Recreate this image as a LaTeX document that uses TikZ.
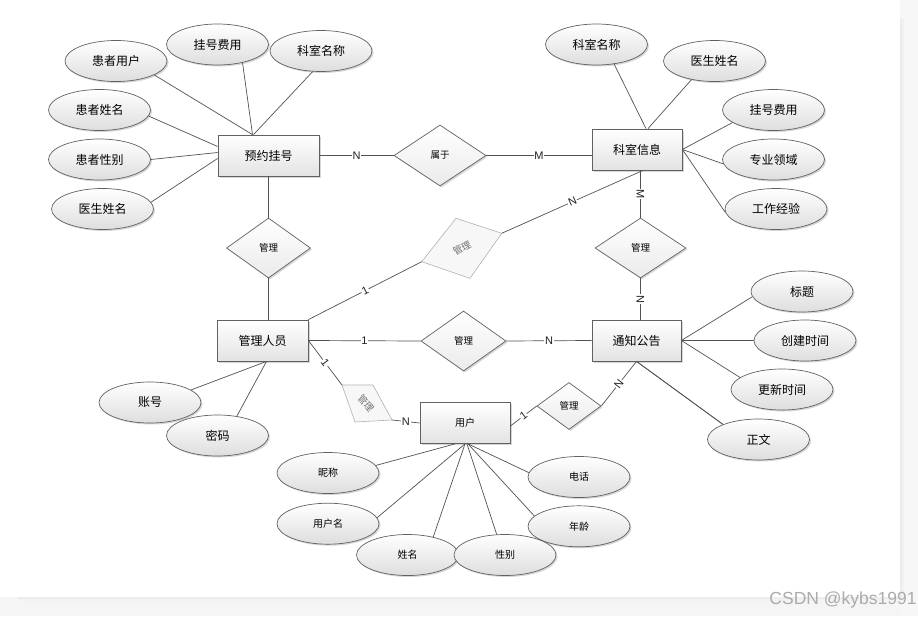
\documentclass[tikz,border=0pt]{standalone}
\usepackage{fontspec}
\newfontfamily\cjk{Noto Sans CJK SC}
\newfontfamily\lat{Liberation Sans}
\usetikzlibrary{shapes.geometric,shadows}
\begin{document}
\begin{tikzpicture}[x=1pt,y=-1pt,
  conn/.style={draw=black!68, line width=0.7pt},
  shd/.style={drop shadow={shadow xshift=1.5pt,shadow yshift=-1.5pt,fill=black!45,opacity=0.35}},
  ent/.style={rectangle, draw=black!62, line width=0.8pt, top color=white, bottom color=black!11,
    minimum height=41, inner sep=0pt, font=\cjk\fontsize{12}{14}\selectfont, shd},
  attr/.style={ellipse, draw=black!62, line width=0.7pt, top color=white, bottom color=black!13,
    minimum width=102, minimum height=41, inner sep=0pt, font=\cjk\fontsize{12}{14}\selectfont, shd},
  sattr/.style={attr, font=\cjk\fontsize{10}{12}\selectfont},
  rel/.style={diamond, draw=black!62, line width=0.7pt, top color=white, bottom color=black!8,
    inner sep=0pt, font=\cjk\fontsize{9.5}{11}\selectfont, shd},
  faded/.style={draw=black!30, line width=0.6pt, fill=black!3},
  fadedtxt/.style={inner sep=0pt, text=black!55, font=\cjk\fontsize{9.5}{11}\selectfont},
  lbl/.style={fill=white, inner sep=0.8pt, text=black!88, font=\lat\fontsize{11}{12}\selectfont},
  wm/.style={inner sep=0pt, text=black!33, font=\lat\fontsize{17.5}{19}\selectfont}
]
\useasboundingbox (0,0) rectangle (918,616);
% background and panel
\fill[white] (0,0) rectangle (918,616);
\fill[black!4] (0,597) rectangle (918,616);
\fill[black!3] (900,0) rectangle (918,616);
\fill[black!5] (19,19) rectangle (904,601);
\fill[black!7] (18,18) rectangle (902,599);
\fill[white] (17,17) rectangle (900,597);

% entities
\node[ent, minimum width=101] (yy) at (268.5,155.5) {预约挂号};
\node[ent, minimum width=90] (ks) at (637,149.5) {科室信息};
\node[ent, minimum width=91] (gl) at (262.5,340.5) {管理人员};
\node[ent, minimum width=89] (tz) at (636.5,340.5) {通知公告};
\node[ent, minimum width=90, font=\cjk\fontsize{10}{12}\selectfont] (yh) at (465,423) {用户};

% relationships
\node[rel, minimum width=92, minimum height=61] (sy) at (440,155.5) {属于};
\node[rel, minimum width=84, minimum height=60] (m1) at (268.5,248) {管理};
\node[rel, minimum width=91, minimum height=60] (m2) at (640.5,248) {管理};
\node[rel, minimum width=85, minimum height=60] (m3) at (463.5,341) {管理};
\node[rel, minimum width=64, minimum height=47] (m4) at (569,406) {管理};

% faded (rotated) relationships
\coordinate (fuL) at (421.7,261.7);
\coordinate (fuT) at (456,218.3);
\coordinate (fuR) at (501.7,233.3);
\coordinate (fuB) at (470,278.3);
\path[faded] (fuL) -- (fuT) -- (fuR) -- (fuB) -- cycle;
\node[fadedtxt, rotate=28] (fu) at (462,248) {管理};
\coordinate (flTL) at (342,385);
\coordinate (flTR) at (373,385);
\coordinate (flBR) at (392,420);
\coordinate (flBL) at (355,422);
\path[faded] (flTL) -- (flTR) -- (flBR) -- (flBL) -- cycle;
\node[fadedtxt, rotate=-50] (fl) at (366,403) {管理};

% attributes of 预约挂号
\node[attr] (a1) at (116,61) {患者用户};
\node[attr] (a2) at (217.5,44.5) {挂号费用};
\node[attr] (a3) at (321,51) {科室名称};
\node[attr] (a4) at (99.5,110) {患者姓名};
\node[attr] (a5) at (99.5,159.5) {患者性别};
\node[attr] (a6) at (102.5,209) {医生姓名};
% attributes of 科室信息
\node[attr] (b1) at (596.5,44.5) {科室名称};
\node[attr] (b2) at (714.5,61) {医生姓名};
\node[attr] (b3) at (773.5,110) {挂号费用};
\node[attr] (b4) at (773.5,159.5) {专业领域};
\node[attr] (b5) at (776,209) {工作经验};
% attributes of 通知公告
\node[attr] (c1) at (802,291.5) {标题};
\node[attr] (c2) at (805,340.5) {创建时间};
\node[attr] (c3) at (782,389.5) {更新时间};
\node[attr] (c4) at (758.5,439.5) {正文};
% attributes of 管理人员
\node[attr] (d1) at (150,402.5) {账号};
\node[attr] (d2) at (217.5,435.5) {密码};
% attributes of 用户
\node[sattr] (e1) at (328,473) {昵称};
\node[sattr] (e2) at (328,523.7) {用户名};
\node[sattr] (e3) at (407.5,555) {姓名};
\node[sattr] (e4) at (505,555) {性别};
\node[sattr] (e5) at (579,477) {电话};
\node[sattr] (e6) at (579,526.3) {年龄};

% attribute connectors
\draw[conn] (a1.-20) -- ([xshift=-16pt]yy.north);
\draw[conn] (a2.-36) -- ([xshift=-16pt]yy.north);
\draw[conn] (a3.-112) -- ([xshift=-15pt]yy.north);
\draw[conn] (a4.-7) -- ([yshift=9pt]yy.west);
\draw[conn] (a5.east) -- ([yshift=3pt]yy.west);
\draw[conn] (a6.8) -- ([yshift=-3pt]yy.west);
\draw[conn] (b1.-48) -- ([xshift=9pt]ks.north);
\draw[conn] (b2.-141) -- ([xshift=11pt]ks.north);
\draw[conn] (b3.-163) -- (ks.east);
\draw[conn] (b4.-175) -- (ks.east);
\draw[conn] (b5.-176) -- (ks.east);
\draw[conn] (c1.-174) -- (tz.east);
\draw[conn] (c2.west) -- (tz.east);
\draw[conn] (c3.164) -- (tz.east);
\draw[conn] (c4.157) -- (tz.south);
\draw[conn] (d1.17) -- ([xshift=4pt]gl.south);
\draw[conn] (d2.45) -- ([xshift=4pt]gl.south);
\draw[conn] (e1.9) -- ([xshift=-10pt]yh.south);
\draw[conn] (e2.7) -- (yh.south);
\draw[conn] (e3.35) -- (yh.south);
\draw[conn] (e4.112) -- ([xshift=2pt]yh.south);
\draw[conn] (e5.175) -- ([xshift=3pt]yh.south);
\draw[conn] (e6.167) -- ([xshift=3pt]yh.south);

% relationship connectors
\draw[conn] (yy.east) -- node[lbl]{N} (sy.west);
\draw[conn] (sy.east) -- node[lbl]{M} (sy.east -| ks.west);
\draw[conn] (yy.south) -- (m1.north);
\draw[conn] (m1.south) -- (m1.south |- gl.north);
\draw[conn] (gl.north east) -- node[lbl, sloped]{1} (fuL);
\draw[conn] (fuR) -- node[lbl, sloped]{N} ([xshift=6pt]ks.south);
\draw[conn] (m2.north |- ks.south) -- node[lbl, rotate=-90]{M} (m2.north);
\draw[conn] (m2.south) -- node[lbl, rotate=-90]{N} (m2.south |- tz.north);
\draw[conn] (gl.east) -- node[lbl]{1} (m3.west);
\draw[conn] (m3.east) -- node[lbl]{N} (tz.west);
\draw[conn] (gl.east) -- node[lbl, sloped]{1} (flTL);
\draw[conn] (flBR) -- node[lbl]{N} (yh.west);
\draw[conn] ([yshift=-3pt]yh.east) -- node[lbl, sloped]{1} (m4.west);
\draw[conn] (m4.east) -- node[lbl, sloped]{N} (tz.south);
\draw[conn] (tz.south) -- (c4.157);

% watermark
\node[wm] (wmk) at (843,600) {CSDN @kybs1991};
\end{tikzpicture}
\end{document}
